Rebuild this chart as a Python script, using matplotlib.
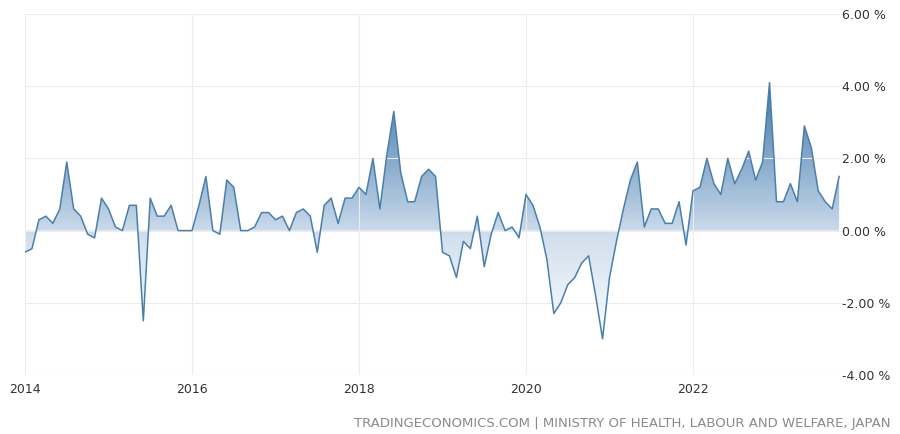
import matplotlib
matplotlib.use("Agg")
import matplotlib.pyplot as plt
import numpy as np
from matplotlib.patches import Polygon

start_year = 2014
values = [
 -0.6,-0.5,0.3,0.4,0.2,0.6,1.9,0.6,0.4,-0.1,-0.2,0.9,
 0.6,0.1,0.0,0.7,0.7,-2.5,0.9,0.4,0.4,0.7,0.0,0.0,
 0.0,0.7,1.5,0.0,-0.1,1.4,1.2,0.0,0.0,0.1,0.5,0.5,
 0.3,0.4,0.0,0.5,0.6,0.4,-0.6,0.7,0.9,0.2,0.9,0.9,
 1.2,1.0,2.0,0.6,2.1,3.3,1.6,0.8,0.8,1.5,1.7,1.5,
 -0.6,-0.7,-1.3,-0.3,-0.5,0.4,-1.0,-0.1,0.5,0.0,0.1,-0.2,
 1.0,0.7,0.1,-0.8,-2.3,-2.0,-1.5,-1.3,-0.9,-0.7,-1.8,-3.0,
 -1.3,-0.3,0.6,1.4,1.9,0.1,0.6,0.6,0.2,0.2,0.8,-0.4,
 1.1,1.2,2.0,1.3,1.0,2.0,1.3,1.7,2.2,1.4,1.9,4.1,
 0.8,0.8,1.3,0.8,2.9,2.3,1.1,0.8,0.6,1.5,
]
yticks = [-4, -2, 0, 2, 4, 6]
ytick_labels = ["-4.00 %", "-2.00 %", "0.00 %", "2.00 %", "4.00 %", "6.00 %"]
xticks = [2014, 2016, 2018, 2020, 2022]
source = "TRADINGECONOMICS.COM | MINISTRY OF HEALTH, LABOUR AND WELFARE, JAPAN"

x = start_year + np.arange(len(values)) / 12.0
y = np.array(values)

fig = plt.figure(figsize=(9, 4.34), dpi=100)
ax = fig.add_axes([25/900, 1-375/434, 820/900, 361/434])
ax.set_xlim(2014, 2014 + 820/83.5)
ax.set_ylim(-4, 6)

# gradient fill
cmap = matplotlib.colors.LinearSegmentedColormap.from_list(
    "g", [(0, "#ffffff"), (0.4, "#d3e0ee"), (0.55, "#aac4dd"), (1, "#3f74a6")])
grad = np.linspace(-3.2, 4.2, 256).reshape(-1, 1)
img = ax.imshow((grad + 3.2) / 7.4, extent=[x[0], x[-1], -3.2, 4.2], origin="lower",
                aspect="auto", cmap=cmap, vmin=0, vmax=1, zorder=1)
verts = np.vstack([[x[0], 0], np.column_stack([x, y]), [x[-1], 0]])
poly = Polygon(verts, closed=True, facecolor="none", edgecolor="none")
ax.add_patch(poly)
img.set_clip_path(poly)
ax.plot(x, y, color="#4a7fab", lw=1.1, zorder=3)

ax.yaxis.tick_right()
ax.set_yticks(yticks)
ax.set_yticklabels(ytick_labels)
ax.set_xticks(xticks)
ax.set_xticklabels([str(t) for t in xticks])
ax.tick_params(length=0, labelsize=9, colors="#333333")
ax.tick_params(axis="y", pad=-2)
ax.tick_params(axis="x", pad=6)
ax.grid(True, color="#ececec", lw=0.8, zorder=0)
for s in ax.spines.values():
    s.set_visible(False)
for lab in ax.get_xticklabels():
    lab.set_horizontalalignment("center")
fig.text(890/900, 1-424/434, source, ha="right", va="center", fontsize=9.5, color="#8a8a8a")
fig.savefig("out.png", dpi=100)
